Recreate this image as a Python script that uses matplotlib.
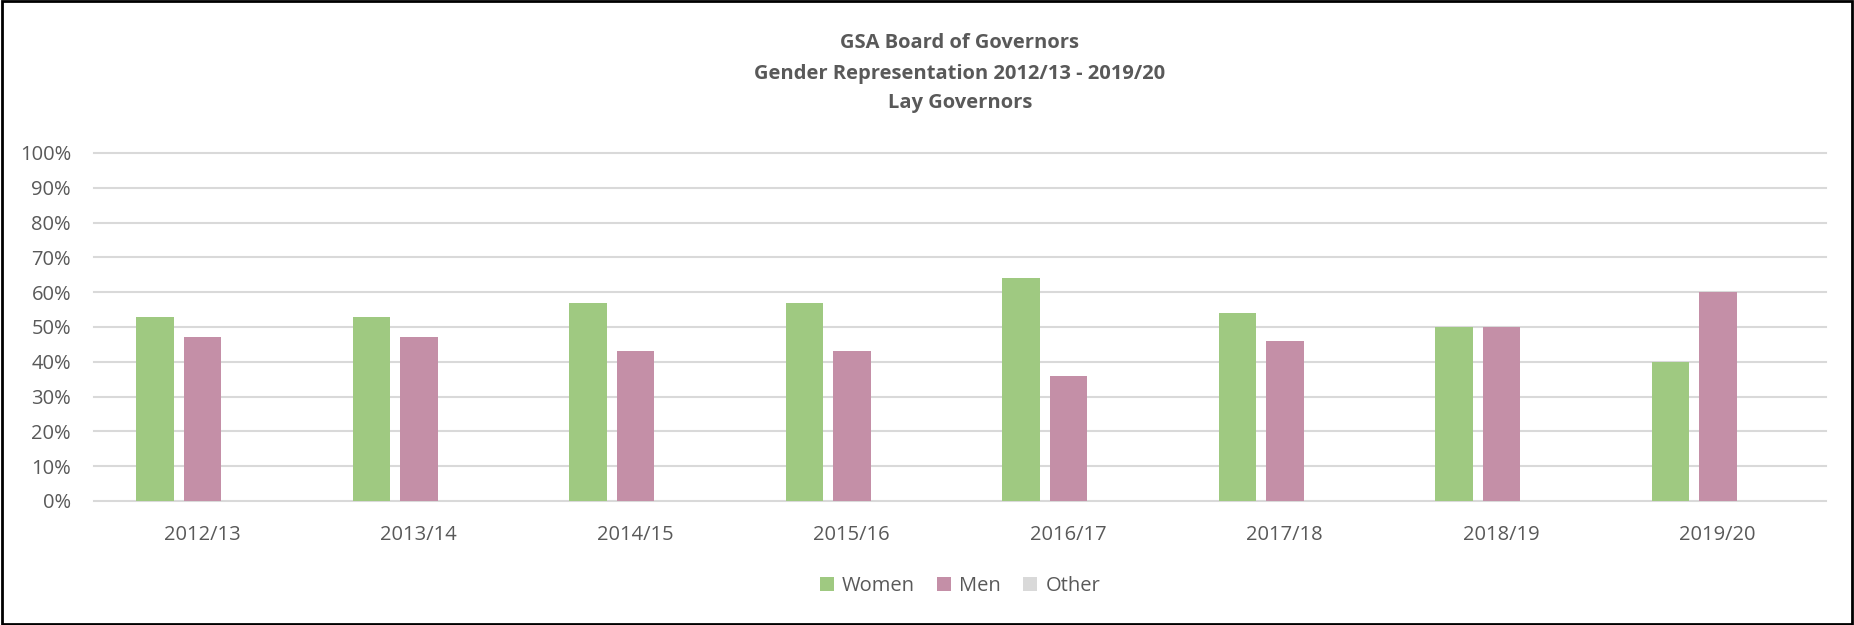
import matplotlib
matplotlib.use("Agg")
import matplotlib.pyplot as plt
from matplotlib.patches import Rectangle, Patch
from matplotlib.ticker import FuncFormatter
import numpy as np

categories = ["2012/13", "2013/14", "2014/15", "2015/16", "2016/17", "2017/18", "2018/19", "2019/20"]
women = [53, 53, 57, 57, 64, 54, 50, 40]
men = [47, 47, 43, 43, 36, 46, 50, 60]
other = [0, 0, 0, 0, 0, 0, 0, 0]
series_names = ["Women", "Men", "Other"]
colors = ["#9FC981", "#C48FA7", "#D9D9D9"]
title_lines = ["GSA Board of Governors", "Gender Representation 2012/13 - 2019/20", "Lay Governors"]

txt = "#595959"
plt.rcParams['font.family'] = ['Open Sans', 'DejaVu Sans']

fig = plt.figure(figsize=(18.54, 6.25), dpi=100)
ax = fig.add_axes([94/1854, 1-501/625, (1826-94)/1854, (501-153)/625])

x = np.arange(len(categories))
d = 47.5/216.5
w = 37.5/216.5
for j, (vals, c) in enumerate(zip([women, men, other], colors)):
    ax.bar(x + (j-1)*d, np.array(vals)/100.0, width=w, color=c, zorder=3, linewidth=0)

ax.set_xlim(-0.5, len(categories)-0.5)
ax.set_ylim(0, 1.0)
ax.set_yticks(np.linspace(0, 1, 11))
ax.yaxis.set_major_formatter(FuncFormatter(lambda v, p: f"{int(round(v*100))}%"))
ax.set_xticks(x)
ax.set_xticklabels(categories)
for s in ax.spines.values():
    s.set_visible(False)
ax.grid(axis='y', color='#D9D9D9', linewidth=1.5, zorder=0)
for gl in ax.get_ygridlines():
    gl.set_clip_on(False)
ax.tick_params(axis='both', length=0, labelsize=14.5, labelcolor=txt)
ax.tick_params(axis='y', pad=16.5)
ax.tick_params(axis='x', pad=17)

baselines = [48, 79.5, 108]
for t, yy in zip(title_lines, baselines):
    fig.text(0.5*(94+1826)/1854, 1-yy/625, t, ha='center', va='baseline', fontsize=14.5,
             fontweight='bold', color=txt)

handles = [Patch(facecolor=c, edgecolor='none') for c in colors]
leg = fig.legend(handles, series_names, loc='center', bbox_to_anchor=(0.5*(94+1826)/1854, 1-586/625),
                 ncol=3, frameon=False, fontsize=14.5, handlelength=0.7, handleheight=0.7,
                 handletextpad=0.4, columnspacing=1.1)
for t in leg.get_texts():
    t.set_color(txt)

fig.add_artist(Rectangle((0.001, 0.002), 0.998, 0.996, transform=fig.transFigure,
                         fill=False, edgecolor='black', linewidth=2.0))

fig.savefig("out.png", dpi=100, facecolor='white')
